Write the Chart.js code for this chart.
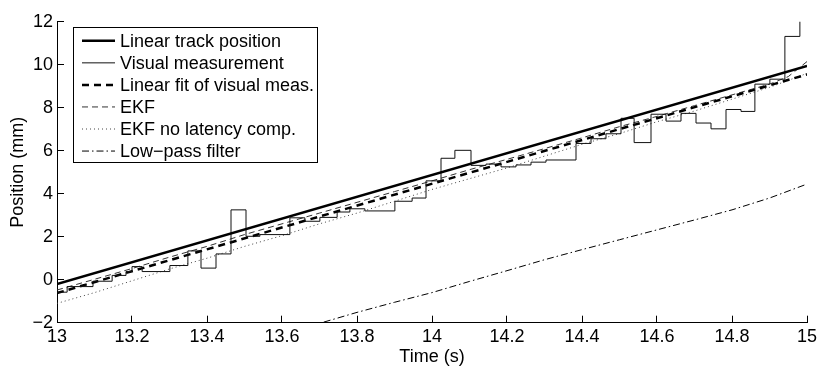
<!DOCTYPE html>
<html>
<head>
<meta charset="utf-8">
<script src="https://cdn.jsdelivr.net/npm/chart.js@4.4.1/dist/chart.umd.min.js"></script>
<style>
  html, body { margin: 0; padding: 0; background: #fff; }
  canvas { display: block; }
</style>
</head>
<body>
<canvas id="chart" width="819" height="369"></canvas>
<script>
// ─── Data ───────────────────────────────────────────────────

const trackTimes = [13, 15];
const trackPos = [-0.2, 9.95];

const fitTimes = [13, 15];
const fitPos = [-0.62, 9.55];

const visualTimes = [
  13.000, 13.027, 13.096, 13.147, 13.184, 13.200, 13.227, 13.301, 13.349, 13.384,
  13.424, 13.464, 13.504, 13.541, 13.621, 13.661, 13.701, 13.747, 13.781, 13.821,
  13.901, 13.947, 13.984, 14.024, 14.061, 14.104, 14.144, 14.184, 14.224, 14.264,
  14.304, 14.384, 14.424, 14.464, 14.504, 14.539, 14.584, 14.624, 14.664, 14.704,
  14.744, 14.784, 14.824, 14.861, 14.901, 14.941, 14.981, 15.000
];
const visualPos = [
  -0.58, -0.32, -0.07, 0.20, 0.38, 0.61, 0.38, 0.66, 1.34, 0.54,
  1.20, 3.25, 2.02, 2.10, 2.88, 2.72, 2.90, 3.15, 3.30, 3.20,
  3.65, 3.80, 4.60, 5.65, 6.02, 5.32, 5.38, 5.25, 5.34, 5.47,
  5.57, 6.34, 6.56, 6.79, 7.51, 6.38, 7.70, 7.38, 7.74, 7.29,
  7.02, 7.92, 7.83, 9.10, 9.33, 11.32, 12.10, 12.10
];

const ekfTimes = [
  13.0, 13.1, 13.2, 13.3, 13.4, 13.5, 13.6, 13.7, 13.8, 13.9, 14.0,
  14.1, 14.2, 14.3, 14.4, 14.5, 14.6, 14.7, 14.8, 14.9, 14.95, 15.0
];
const ekfPos = [
  -0.48, 0.02, 0.52, 1.05, 1.55, 2.10, 2.60, 3.10, 3.60, 4.10, 4.60,
  5.12, 5.60, 6.10, 6.60, 7.12, 7.60, 8.10, 8.60, 9.10, 9.45, 10.15
];

const noLatTimes = [
  13.0, 13.1, 13.2, 13.3, 13.4, 13.5, 13.6, 13.7, 13.8, 13.9, 14.0,
  14.1, 14.2, 14.3, 14.4, 14.5, 14.6, 14.7, 14.8, 14.9, 15.0
];
const noLatPos = [
  -1.10, -0.60, -0.05, 0.50, 1.00, 1.55, 2.05, 2.60, 3.10, 3.65, 4.20,
  4.70, 5.20, 5.75, 6.30, 6.80, 7.35, 7.85, 8.40, 8.95, 9.60
];

const lowPassTimes = [
  13.6, 13.7, 13.8, 13.9, 14.0, 14.1, 14.2, 14.3, 14.4, 14.5, 14.6, 14.7, 14.8, 14.9, 15.0
];
const lowPassPos = [
  -2.55, -2.03, -1.52, -1.05, -0.60, -0.08, 0.42, 0.93, 1.40, 1.86, 2.32, 2.78, 3.25, 3.80, 4.45
];

const xTicks = [13, 13.2, 13.4, 13.6, 13.8, 14, 14.2, 14.4, 14.6, 14.8, 15];
const yTicks = [-2, 0, 2, 4, 6, 8, 10, 12];

// ─── Helpers ────────────────────────────────────────────────

const FONT = { family: "'Liberation Sans', Arial, Helvetica, sans-serif", size: 18 };

function pairs(xs, ys) {
  return xs.map((x, i) => ({ x, y: ys[i] }));
}

function fmtNum(v) {
  const s = String(+v.toFixed(1));
  return v < 0 ? '\u2212' + s.slice(1) : s;
}

// Legend drawn inside the axes, MATLAB style
const boxLegend = {
  id: 'boxLegend',
  afterDraw(chart) {
    const { ctx, chartArea } = chart;
    const left = chartArea.left + 16;
    const top = chartArea.top + 5.5;
    const w = 244, h = 135, rowH = 22.05;
    ctx.save();
    ctx.fillStyle = '#fff';
    ctx.fillRect(left, top, w, h);
    ctx.strokeStyle = '#000';
    ctx.lineWidth = 1;
    ctx.strokeRect(Math.round(left) + 0.5, Math.round(top) + 0.5, w, h);
    ctx.font = `${FONT.size}px ${FONT.family}`;
    ctx.textBaseline = 'middle';
    ctx.textAlign = 'left';
    chart.data.datasets.forEach((ds, i) => {
      const y = top + 13.5 + i * rowH;
      ctx.beginPath();
      ctx.setLineDash(ds.borderDash || []);
      ctx.lineWidth = ds.borderWidth;
      ctx.strokeStyle = ds.borderColor;
      ctx.moveTo(left + 9, y);
      ctx.lineTo(left + 42, y);
      ctx.stroke();
      ctx.setLineDash([]);
      ctx.fillStyle = '#000';
      ctx.fillText(ds.label, left + 47, y + 1);
    });
    ctx.restore();
  },
};

// ─── Chart ──────────────────────────────────────────────────

Chart.defaults.color = '#000';
Chart.defaults.font.family = FONT.family;
Chart.defaults.font.size = FONT.size;

const lineBase = { pointRadius: 0, tension: 0, fill: false, borderCapStyle: 'butt' };

new Chart(document.getElementById('chart'), {
  type: 'line',
  data: {
    datasets: [
      { ...lineBase, label: 'Linear track position', data: pairs(trackTimes, trackPos),
        borderColor: '#000', borderWidth: 2.5 },
      { ...lineBase, label: 'Visual measurement', data: pairs(visualTimes, visualPos),
        borderColor: '#111', borderWidth: 1, stepped: true },
      { ...lineBase, label: 'Linear fit of visual meas.', data: pairs(fitTimes, fitPos),
        borderColor: '#000', borderWidth: 2.5, borderDash: [7, 5] },
      { ...lineBase, label: 'EKF', data: pairs(ekfTimes, ekfPos),
        borderColor: '#333', borderWidth: 1, borderDash: [6, 4] },
      { ...lineBase, label: 'EKF no latency comp.', data: pairs(noLatTimes, noLatPos),
        borderColor: '#444', borderWidth: 1, borderDash: [1, 3] },
      { ...lineBase, label: 'Low\u2212pass filter', data: pairs(lowPassTimes, lowPassPos),
        borderColor: '#000', borderWidth: 1, borderDash: [7, 3, 1.5, 3] },
    ],
  },
  options: {
    responsive: false,
    animation: false,
    devicePixelRatio: 1,
    layout: { padding: { top: 12.6, right: 12, left: 0, bottom: 0 } },
    plugins: {
      legend: { display: false },
      tooltip: { enabled: false },
    },
    scales: {
      x: {
        type: 'linear',
        min: 13,
        max: 15,
        afterBuildTicks: s => { s.ticks = xTicks.map(v => ({ value: v })); },
        afterFit: s => { s.height = 46.3; s.paddingLeft = 0; s.paddingRight = 0; },
        ticks: { callback: v => fmtNum(v), padding: 11, maxRotation: 0, autoSkip: false, color: '#000' },
        grid: { drawOnChartArea: false, tickLength: -7, color: '#000', tickWidth: 1 },
        border: { display: true, color: '#000', width: 1 },
        title: { display: true, text: 'Time (s)', color: '#000', padding: { top: 0, bottom: 1 } },
      },
      y: {
        type: 'linear',
        min: -2,
        max: 12,
        afterBuildTicks: s => { s.ticks = yTicks.map(v => ({ value: v })); },
        afterFit: s => { s.width = 57; },
        ticks: { callback: v => fmtNum(v), padding: 11, autoSkip: false, color: '#000' },
        grid: { drawOnChartArea: false, tickLength: -7, color: '#000', tickWidth: 1 },
        border: { display: true, color: '#000', width: 1 },
        title: { display: true, text: 'Position (mm)', color: '#000', padding: { top: 7, bottom: 0 } },
      },
    },
  },
  plugins: [boxLegend],
});
</script>
</body>
</html>
